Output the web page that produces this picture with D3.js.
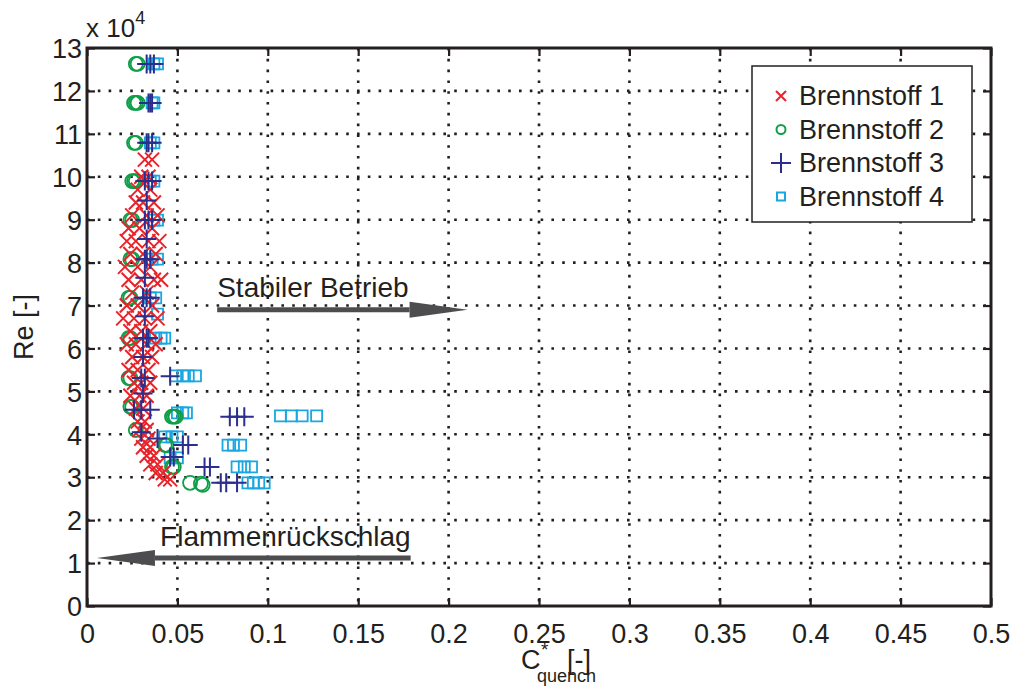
<!DOCTYPE html>
<html>
<head>
<meta charset="utf-8">
<script src="https://cdn.jsdelivr.net/npm/d3@7"></script>
<style>
  body { margin: 0; background: #fff; }
  svg text { font-family: "Liberation Sans", Arial, Helvetica, sans-serif; fill: #231f20; }
</style>
</head>
<body>
<svg id="chart" width="1013" height="688"></svg>
<script>
// Brennstoff 1 (red x)
var fuel1C  = [0.032,0.036, 0.030,0.034, 0.028,0.035, 0.027,0.031,0.037, 0.025,0.033,0.039,
               0.023,0.029,0.036, 0.022,0.027,0.034,0.040, 0.024,0.031,0.038, 0.021,0.028,0.035,
               0.023,0.030,0.037,0.041, 0.025,0.033, 0.022,0.028,0.036, 0.020,0.026,0.032,0.039,
               0.024,0.030,0.035, 0.022,0.027,0.033,0.038, 0.025,0.031,0.036, 0.023,0.028,0.034,
               0.026,0.030,0.035, 0.024,0.029,0.033, 0.027,0.031, 0.028,0.032, 0.029,0.033,
               0.030,0.034, 0.031,0.035, 0.033,0.037, 0.035,0.039, 0.038,0.042, 0.043,0.046];
var fuel1Re = [104000,104000, 100000,100000, 97000,97000, 94000,94000,94000, 91000,91000,91000,
               88000,88000,88000, 85000,85000,85000,85000, 82000,82000,82000, 79000,79000,79000,
               76000,76000,76000,76000, 73000,73000, 70000,70000,70000, 67000,67000,67000,67000,
               64000,64000,64000, 61000,61000,61000,61000, 58000,58000,58000, 55000,55000,55000,
               52000,52000,52000, 49000,49000,49000, 46000,46000, 43000,43000, 41000,41000,
               39000,39000, 37000,37000, 35000,35000, 33000,33000, 31000,31000, 29500,29500];

// Brennstoff 2 (green o)
var fuel2C  = [0.027,0.028, 0.026,0.027,0.028, 0.026,0.027, 0.025,0.026,0.027, 0.024,0.025,
               0.024,0.025, 0.023,0.024, 0.023,0.024, 0.023,0.024, 0.024,0.025, 0.027,
               0.047,0.048,0.049, 0.043,0.044, 0.047,0.048, 0.057,0.063,0.064];
var fuel2Re = [126300,126300, 117200,117200,117200, 107900,107900, 99000,99000,99000, 89900,89900,
               80800,80800, 71800,71800, 62400,62400, 53100,53100, 46400,46400, 41000,
               44100,44100,44100, 37500,37500, 32400,32400, 28700,28500,28200];

// Brennstoff 3 (blue +)
var fuel3C  = [0.033,0.035,0.037, 0.034,0.035,0.036, 0.033,0.034,0.036, 0.032,0.034,0.036, 0.033,
               0.032,0.034,0.036, 0.033, 0.032,0.033,0.035, 0.032, 0.031,0.033,0.035, 0.032,
               0.031,0.033,0.034, 0.031, 0.030,0.032,0.046, 0.031, 0.026,0.030,0.035,
               0.079,0.083,0.087, 0.030, 0.039, 0.053,0.056, 0.046,0.048, 0.065,0.068,
               0.074,0.077,0.083];
var fuel3Re = [126300,126300,126300, 117200,117200,117200, 107900,107900,107900, 99000,99000,99000, 94500,
               89900,89900,89900, 85500, 80800,80800,80800, 76500, 71800,71800,71800, 67500,
               62400,62400,62400, 58000, 53100,53100,53500, 49500, 45700,45700,45700,
               44100,44100,44100, 40500, 39000, 37500,37500, 34700,34700, 32400,32400,
               28700,28700,28700];

// Brennstoff 4 (cyan square)
var fuel4C  = [0.037,0.039, 0.036,0.037, 0.035,0.037, 0.035,0.037, 0.037,0.039, 0.036,0.039,
               0.035,0.038, 0.039, 0.038,0.041,0.043, 0.049,0.053,0.056,0.060, 0.050,0.053,0.055,
               0.107,0.113,0.119,0.127, 0.043,0.047,0.050, 0.078,0.081,0.085, 0.046,0.050,
               0.083,0.087,0.091, 0.089,0.092,0.095,0.098];
var fuel4Re = [126300,126300, 117200,117200, 107900,107900, 99000,99000, 89900,89900, 80800,80800,
               71800,71800, 68000, 62400,62400,62400, 53600,53600,53600,53600, 45000,45000,45000,
               44300,44300,44300,44300, 39400,39400,39400, 37500,37500,37500, 34500,34500,
               32400,32400,32400, 28700,28700,28700,28700];

var legendLabels = ["Brennstoff 1", "Brennstoff 2", "Brennstoff 3", "Brennstoff 4"];
var xTicks = [0, 0.05, 0.1, 0.15, 0.2, 0.25, 0.3, 0.35, 0.4, 0.45, 0.5];
var yTicks = [0, 10000, 20000, 30000, 40000, 50000, 60000, 70000, 80000, 90000, 100000, 110000, 120000, 130000];

// annotation arrows: [from C, to C, Re]
var stableArrow = [0.072, 0.2105, 69000];
var flashArrow  = [0.179, 0.0055, 11200];

var svg = d3.select("#chart");
var plotLeft = 87, plotRight = 991, plotTop = 48, plotBottom = 606;

var x = d3.scaleLinear().domain([0, 0.5]).range([plotLeft, plotRight]);
var y = d3.scaleLinear().domain([0, 130000]).range([plotBottom, plotTop]);

// grid (dotted)
var grid = svg.append("g");
xTicks.slice(1, -1).forEach(function (t) {
  grid.append("line").attr("x1", x(t)).attr("x2", x(t)).attr("y1", plotTop).attr("y2", plotBottom)
    .attr("stroke", "#231f20").attr("stroke-width", 2.6).attr("stroke-dasharray", "2.6,8.2");
});
yTicks.slice(1, -1).forEach(function (t) {
  grid.append("line").attr("x1", plotLeft).attr("x2", plotRight).attr("y1", y(t)).attr("y2", y(t))
    .attr("stroke", "#231f20").attr("stroke-width", 2.6).attr("stroke-dasharray", "2.6,8.2");
});

// axes with inward ticks
var xAxis = d3.axisBottom(x).tickValues(xTicks).tickSizeInner(-8).tickSizeOuter(0).tickPadding(18)
  .tickFormat(function (d) { return d === 0 ? "0" : String(+d.toFixed(2)); });
var gx = svg.append("g").attr("transform", "translate(0," + plotBottom + ")").call(xAxis);
var yAxis = d3.axisLeft(y).tickValues(yTicks).tickSizeInner(-8).tickSizeOuter(0).tickPadding(5)
  .tickFormat(function (d) { return d / 10000; });
var gy = svg.append("g").attr("transform", "translate(" + plotLeft + ",0)").call(yAxis);
var gx2 = svg.append("g").attr("transform", "translate(0," + plotTop + ")")
  .call(d3.axisTop(x).tickValues(xTicks).tickSizeInner(-8).tickSizeOuter(0).tickFormat(""));
var gy2 = svg.append("g").attr("transform", "translate(" + plotRight + ",0)")
  .call(d3.axisRight(y).tickValues(yTicks).tickSizeInner(-8).tickSizeOuter(0).tickFormat(""));
[gx, gy, gx2, gy2].forEach(function (g) {
  g.select(".domain").remove();
  g.selectAll(".tick line").attr("stroke", "#231f20").attr("stroke-width", 2.2);
  g.selectAll(".tick text").attr("font-size", 27).attr("fill", "#231f20")
    .style("font-family", "'Liberation Sans', Arial, sans-serif");
});
gy.selectAll(".tick text").attr("dy", "0.36em");

// frame
svg.append("rect").attr("x", plotLeft).attr("y", plotTop).attr("width", plotRight - plotLeft)
  .attr("height", plotBottom - plotTop)
  .attr("fill", "none").attr("stroke", "#231f20").attr("stroke-width", 3);

// exponent label
var ex = svg.append("text").attr("x", 86).attr("y", 37).attr("font-size", 26);
ex.append("tspan").text("x 10");
ex.append("tspan").attr("dy", -13).attr("font-size", 18).text("4");

// marker shapes
var colors = ["#e8232a", "#0f9f48", "#2b2e8c", "#1aa7e1"];
function markerPath(type, s) {
  if (type === 0) return "M" + (-s) + "," + (-s) + "L" + s + "," + s + "M" + (-s) + "," + s + "L" + s + "," + (-s);
  if (type === 2) return "M" + (-s) + ",0L" + s + ",0M0," + (-s) + "L0," + s;
  if (type === 3) return "M" + (-s) + "," + (-s) + "H" + s + "V" + s + "H" + (-s) + "Z";
  return d3.symbol().type(d3.symbolCircle).size(Math.PI * s * s)();
}
var markerSize = [7, 7, 9.5, 5.5];
var markerStroke = [2, 1.8, 2, 1.8];

function drawSeries(cs, res, idx) {
  var pts = cs.map(function (c, i) { return [c, res[i]]; });
  svg.append("g").selectAll("path").data(pts).enter().append("path")
    .attr("transform", function (d) { return "translate(" + x(d[0]) + "," + y(d[1]) + ")"; })
    .attr("d", markerPath(idx, markerSize[idx]))
    .attr("fill", "none").attr("stroke", colors[idx]).attr("stroke-width", markerStroke[idx]);
}
drawSeries(fuel4C, fuel4Re, 3);
drawSeries(fuel2C, fuel2Re, 1);
drawSeries(fuel1C, fuel1Re, 0);
drawSeries(fuel3C, fuel3Re, 2);

// annotations
function arrow(a) {
  var x0 = x(a[0]), x1 = x(a[1]), yy = y(a[2]);
  var dir = x1 > x0 ? 1 : -1, headLen = 58, headW = 8;
  svg.append("line").attr("x1", x0).attr("x2", x1 - dir * headLen).attr("y1", yy).attr("y2", yy)
    .attr("stroke", "#4d4d4f").attr("stroke-width", 5);
  svg.append("path").attr("d", "M" + x1 + "," + yy + "L" + (x1 - dir * headLen) + "," + (yy - headW) +
    "L" + (x1 - dir * headLen) + "," + (yy + headW) + "Z").attr("fill", "#4d4d4f");
}
arrow(stableArrow);
arrow(flashArrow);
svg.append("text").attr("x", x(stableArrow[0])).attr("y", y(stableArrow[2]) - 13)
  .attr("font-size", 28).text("Stabiler Betrieb");
svg.append("text").attr("x", x(flashArrow[0])).attr("y", y(flashArrow[2]) - 12)
  .attr("text-anchor", "end").attr("font-size", 28).text("Flammenrückschlag");

// axis labels
svg.append("text").attr("transform", "translate(33," + ((plotTop + plotBottom) / 2) + ") rotate(-90)")
  .attr("text-anchor", "middle").attr("font-size", 27).text("Re [-]");
var xl = svg.append("text").attr("x", 521).attr("y", 669).attr("font-size", 27);
xl.append("tspan").text("C");
xl.append("tspan").attr("x", 541).attr("y", 656).attr("font-size", 19).text("*");
xl.append("tspan").attr("x", 537).attr("y", 682).attr("font-size", 18).text("quench");
xl.append("tspan").attr("x", 567).attr("y", 669).text("[-]");

// legend
var lg = svg.append("g");
lg.append("rect").attr("x", 752).attr("y", 66).attr("width", 220).attr("height", 156)
  .attr("fill", "#fff").attr("stroke", "#231f20").attr("stroke-width", 1.5);
var legendSize = [5, 4.5, 10, 4];
legendLabels.forEach(function (lab, i) {
  var yy = 96 + i * 33.5;
  lg.append("path").attr("transform", "translate(781," + yy + ")")
    .attr("d", markerPath(i, legendSize[i])).attr("fill", "none")
    .attr("stroke", colors[i]).attr("stroke-width", 2);
  lg.append("text").attr("x", 799).attr("y", yy + 9).attr("font-size", 27).text(lab);
});
</script>
</body>
</html>
